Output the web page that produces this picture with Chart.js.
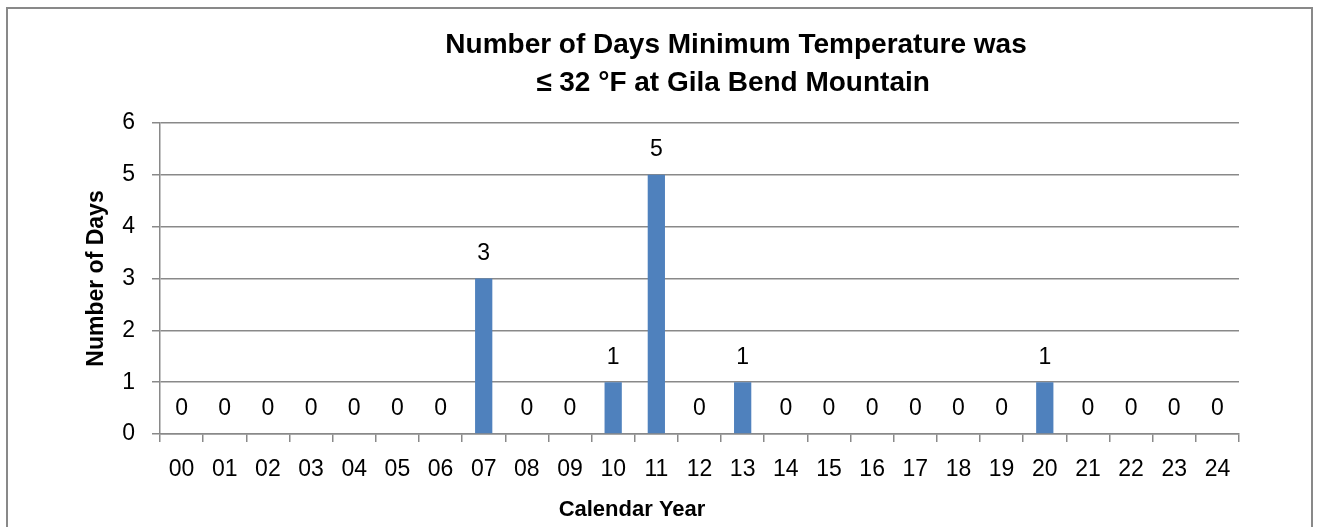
<!DOCTYPE html>
<html>
<head>
<meta charset="utf-8">
<script src="https://cdn.jsdelivr.net/npm/chart.js@4.4.1/dist/chart.umd.min.js"></script>
<style>
  html, body { margin: 0; padding: 0; background: #fff; }
  #wrap { width: 1319px; height: 527px; }
</style>
</head>
<body>
<div id="wrap"><canvas id="daysChart" width="1319" height="527"></canvas></div>
<script>
// data
const years = ["00","01","02","03","04","05","06","07","08","09","10","11","12","13","14","15","16","17","18","19","20","21","22","23","24"];
const daysBelow32 = [0,0,0,0,0,0,0,3,0,0,1,5,0,1,0,0,0,0,0,0,1,0,0,0,0];
const yTicks = [0,1,2,3,4,5,6];
const titleLines = ["Number of Days Minimum Temperature was", "\u2264 32 \u00B0F at Gila Bend Mountain"];
const xTitle = "Calendar Year";
const yTitle = "Number of Days";

const FONT = "'Liberation Sans', Arial, sans-serif";
const GRID = "#898989";

// frame, titles and value labels drawn on the canvas
const decorations = {
  id: "decorations",
  beforeDraw(chart) {
    const c = chart.ctx;
    c.save();
    c.fillStyle = "#fff";
    c.fillRect(0, 0, chart.width, chart.height);
    c.strokeStyle = GRID;
    c.lineWidth = 2;
    c.strokeRect(7, 8, 1305, 560);
    c.restore();
  },
  afterDraw(chart) {
    const c = chart.ctx;
    const area = chart.chartArea;
    c.save();
    c.fillStyle = "#000";
    c.textAlign = "center";
    c.textBaseline = "middle";
    c.font = "bold 28px " + FONT;
    c.fillText(titleLines[0], 736, 45);
    c.fillText(titleLines[1], 733, 83);

    c.font = "bold 22px " + FONT;
    c.fillText(xTitle, 632, 510);
    c.save();
    c.font = "bold 23px " + FONT;
    c.translate(97, (area.top + area.bottom) / 2);
    c.rotate(-Math.PI / 2);
    c.fillText(yTitle, 0, 0);
    c.restore();

    // value labels above bars
    c.font = "23px " + FONT;
    const meta = chart.getDatasetMeta(0);
    meta.data.forEach((bar, i) => {
      c.fillText(String(daysBelow32[i]), bar.x, bar.y - 25);
    });
    c.restore();
  }
};

new Chart(document.getElementById("daysChart"), {
  type: "bar",
  data: {
    labels: years,
    datasets: [{
      data: daysBelow32,
      backgroundColor: "#4F81BD",
      borderWidth: 0,
      categoryPercentage: 1,
      barPercentage: 0.4
    }]
  },
  options: {
    responsive: false,
    animation: false,
    layout: { padding: { top: 123, right: 80, left: 0, bottom: 0 } },
    plugins: { legend: { display: false }, title: { display: false }, tooltip: { enabled: false } },
    scales: {
      x: {
        offset: true,
        grid: { offset: true, drawOnChartArea: false, drawTicks: true, tickLength: 8, color: GRID, lineWidth: 1.5 },
        border: { display: true, color: GRID, width: 1.5 },
        ticks: { color: "#000", font: { family: FONT, size: 23 }, padding: 14, maxRotation: 0, autoSkip: false },
        afterFit(scale) { scale.height = 93; }
      },
      y: {
        min: 0,
        max: 6,
        afterBuildTicks(scale) { scale.ticks = yTicks.map(v => ({ value: v })); },
        grid: { color: GRID, lineWidth: 1.5, tickLength: 8 },
        border: { display: true, color: GRID, width: 1.5 },
        ticks: { color: "#000", font: { family: FONT, size: 23 }, padding: 17 },
        afterFit(scale) { scale.width = 160; }
      }
    }
  },
  plugins: [decorations]
});
</script>
</body>
</html>
